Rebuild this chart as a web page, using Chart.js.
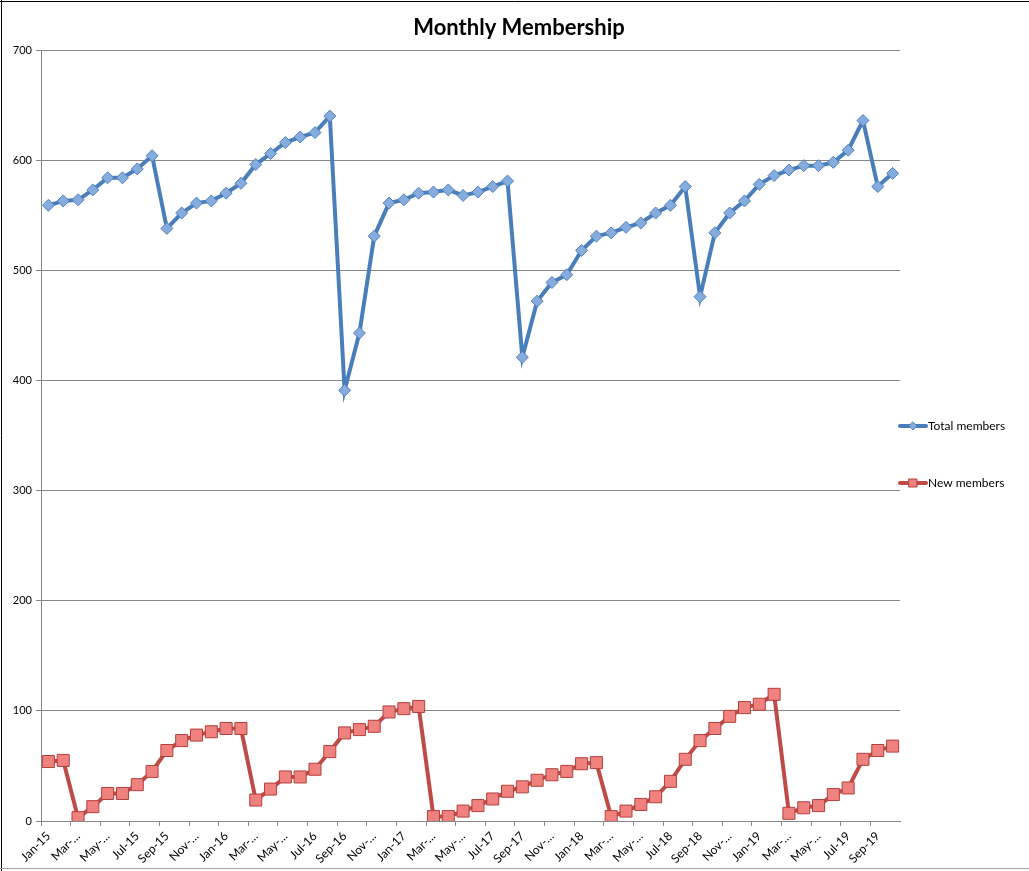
<!DOCTYPE html>
<html>
<head>
<meta charset="utf-8">
<script src="https://cdn.jsdelivr.net/npm/chart.js@4/dist/chart.umd.min.js"></script>
<style>
  html, body { margin: 0; padding: 0; background: #fff; }
  #wrap { width: 1029px; height: 871px; position: relative; }
</style>
</head>
<body>
<div id="wrap"><canvas id="membershipChart"></canvas></div>
<script>
// Months Jan-15 .. Oct-19
const months = [
  'Jan-15','Feb-15','Mar-15','Apr-15','May-15','Jun-15','Jul-15','Aug-15','Sep-15','Oct-15','Nov-15','Dec-15',
  'Jan-16','Feb-16','Mar-16','Apr-16','May-16','Jun-16','Jul-16','Aug-16','Sep-16','Oct-16','Nov-16','Dec-16',
  'Jan-17','Feb-17','Mar-17','Apr-17','May-17','Jun-17','Jul-17','Aug-17','Sep-17','Oct-17','Nov-17','Dec-17',
  'Jan-18','Feb-18','Mar-18','Apr-18','May-18','Jun-18','Jul-18','Aug-18','Sep-18','Oct-18','Nov-18','Dec-18',
  'Jan-19','Feb-19','Mar-19','Apr-19','May-19','Jun-19','Jul-19','Aug-19','Sep-19','Oct-19'
];

// Labels as shown on the axis (every second month, long ones cut off)
const tickLabels = [
  'Jan-15','Mar-…','May-…','Jul-15','Sep-15','Nov-…',
  'Jan-16','Mar-…','May-…','Jul-16','Sep-16','Nov-…',
  'Jan-17','Mar-…','May-…','Jul-17','Sep-17','Nov-…',
  'Jan-18','Mar-…','May-…','Jul-18','Sep-18','Nov-…',
  'Jan-19','Mar-…','May-…','Jul-19','Sep-19'
];

const totalMembers = [
  559, 563, 564, 573, 584, 584, 592, 604, 538, 552, 561, 563,
  570, 579, 596, 606, 616, 621, 625, 640, 391, 443, 531, 561,
  564, 570, 571, 573, 568, 571, 576, 581, 421, 472, 489, 496,
  518, 531, 534, 539, 543, 552, 559, 576, 476, 534, 552, 563,
  578, 586, 591, 595, 595, 598, 609, 636, 576, 588
];

const newMembers = [
  54, 55, 3, 13, 25, 25, 33, 45, 64, 73, 78, 81,
  84, 84, 19, 29, 40, 40, 47, 63, 80, 83, 86, 99,
  102, 104, 4, 4, 9, 14, 20, 27, 31, 37, 42, 45,
  52, 53, 4, 9, 15, 22, 36, 56, 73, 84, 95, 103,
  106, 115, 7, 12, 14, 24, 30, 56, 64, 68
];

const chartTitle = 'Monthly Membership';

const FONT = 'Lato, "Open Sans", sans-serif';
const AXIS_GREY = '#868686';

// Title, legend (line + marker like the spreadsheet) and frame
const decorations = {
  id: 'decorations',
  afterDraw(chart) {
    const ctx = chart.ctx;
    ctx.save();

    ctx.fillStyle = '#000';
    ctx.font = 'bold 22px ' + FONT;
    ctx.textAlign = 'center';
    ctx.textBaseline = 'middle';
    ctx.fillText(chartTitle, 519, 28);

    const rows = [426, 483];
    ctx.textAlign = 'left';
    chart.data.datasets.forEach((ds, i) => {
      const y = rows[i];
      ctx.strokeStyle = ds.borderColor;
      ctx.lineWidth = 4;
      ctx.lineCap = 'round';
      ctx.beginPath();
      ctx.moveTo(900, y);
      ctx.lineTo(926, y);
      ctx.stroke();
      ctx.fillStyle = ds.pointBackgroundColor;
      ctx.strokeStyle = ds.pointBorderColor;
      ctx.lineWidth = 1;
      ctx.beginPath();
      if (ds.pointStyle === 'rectRot') {
        ctx.moveTo(913, y - 4); ctx.lineTo(917, y); ctx.lineTo(913, y + 4); ctx.lineTo(909, y);
      } else {
        ctx.rect(909, y - 4, 8, 8);
      }
      ctx.closePath();
      ctx.fill();
      ctx.stroke();
      ctx.fillStyle = '#000';
      ctx.font = '12px ' + FONT;
      ctx.fillText(ds.label, 928, y);
    });

    ctx.strokeStyle = '#000';
    ctx.lineWidth = 1;
    ctx.beginPath();
    ctx.moveTo(1.5, 0); ctx.lineTo(1.5, 871);
    ctx.moveTo(0, 1.5); ctx.lineTo(1029, 1.5);
    ctx.stroke();
    ctx.strokeStyle = '#a0a0a0';
    ctx.beginPath();
    ctx.moveTo(0, 868.5); ctx.lineTo(1029, 868.5);
    ctx.stroke();
    ctx.restore();
  }
};

new Chart(document.getElementById('membershipChart'), {
  type: 'line',
  data: {
    labels: months,
    datasets: [
      {
        label: 'Total members',
        data: totalMembers,
        borderColor: '#4A7EBB',
        borderWidth: 4,
        pointStyle: 'rectRot',
        pointRadius: 6,
        pointBackgroundColor: '#86ABDD',
        pointBorderColor: '#4F81BD',
        pointBorderWidth: 1,
        tension: 0
      },
      {
        label: 'New members',
        data: newMembers,
        borderColor: '#BE4B48',
        borderWidth: 4,
        pointStyle: 'rect',
        pointRadius: 8.5,
        pointBackgroundColor: '#EF817E',
        pointBorderColor: '#B3403D',
        pointBorderWidth: 1,
        tension: 0
      }
    ]
  },
  options: {
    responsive: true,
    maintainAspectRatio: false,
    animation: false,
    layout: { padding: { left: 0, right: 129, top: 50, bottom: 0 } },
    scales: {
      x: {
        offset: true,
        afterFit: (s) => { s.height = 50; },
        border: { color: AXIS_GREY },
        grid: {
          offset: true,
          drawOnChartArea: false,
          tickLength: 5,
          color: (c) => (c.index % 2 === 0 ? AXIS_GREY : 'rgba(0,0,0,0)')
        },
        ticks: {
          autoSkip: false,
          minRotation: 45,
          maxRotation: 45,
          padding: 3,
          color: '#000',
          font: { family: FONT, size: 12 },
          callback: function (value, index) {
            return index % 2 === 0 ? tickLabels[index / 2] : '';
          }
        }
      },
      y: {
        min: 0,
        max: 700,
        afterFit: (s) => { s.width = 41; },
        border: { color: AXIS_GREY },
        grid: { color: AXIS_GREY, tickLength: 5 },
        ticks: {
          stepSize: 100,
          padding: 4,
          color: '#000',
          font: { family: FONT, size: 11 }
        }
      }
    },
    plugins: {
      legend: { display: false },
      tooltip: { enabled: false },
      title: { display: false }
    }
  },
  plugins: [decorations]
});
</script>
</body>
</html>
